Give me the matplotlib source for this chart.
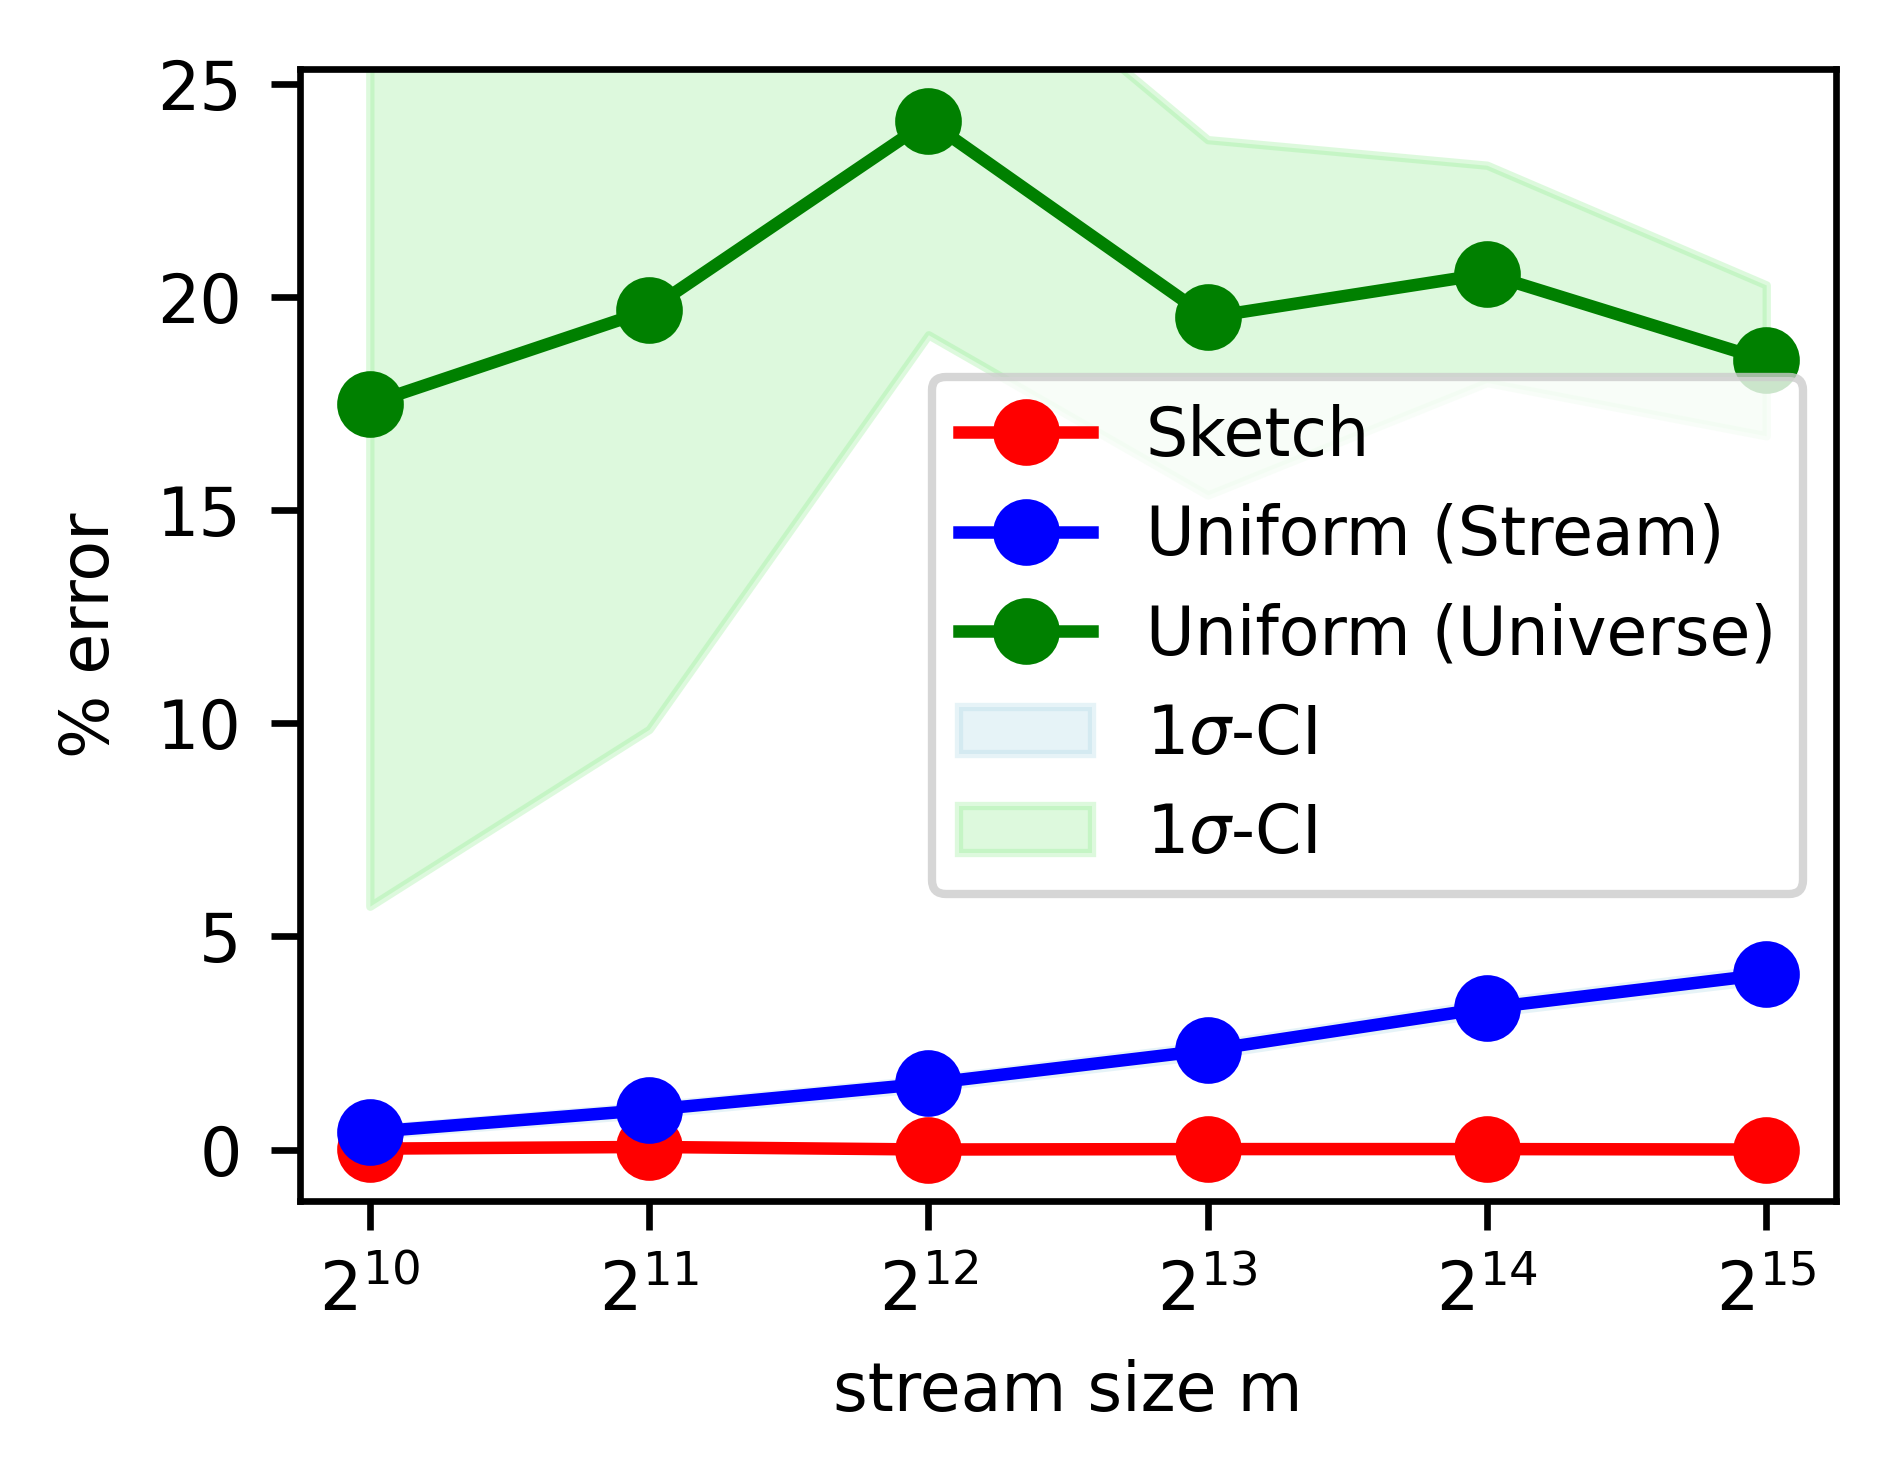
import numpy as np
import matplotlib
matplotlib.use("Agg")
import matplotlib.pyplot as plt

# ---- data ----
stream_size = [2**10, 2**11, 2**12, 2**13, 2**14, 2**15]
sketch = [0.02, 0.06, 0.00, 0.01, 0.01, 0.00]
uniform_stream = [0.41, 0.93, 1.55, 2.33, 3.32, 4.11]
uniform_stream_std = [0.08, 0.10, 0.10, 0.12, 0.12, 0.13]
uniform_universe = [17.50, 19.70, 24.14, 19.53, 20.55, 18.52]
uniform_universe_std = [11.79, 9.84, 5.02, 4.17, 2.55, 1.77]

labels = ["Sketch", "Uniform (Stream)", "Uniform (Universe)", r"1$\sigma$-CI", r"1$\sigma$-CI"]

plt.rcParams["font.family"] = ["DejaVu Sans"]
plt.rcParams["font.size"] = 8

fig = plt.figure(figsize=(1894 / 600, 1481 / 600), dpi=600)
ax = fig.add_axes([0.1584, 0.1891, 0.9694 - 0.1584, 0.9531 - 0.1891])

x = np.array(stream_size)
us = np.array(uniform_stream)
uss = np.array(uniform_stream_std)
uu = np.array(uniform_universe)
uus = np.array(uniform_universe_std)

l1, = ax.plot(x, sketch, "-o", color="red", lw=1.5, ms=7, label=labels[0])
l2, = ax.plot(x, us, "-o", color="blue", lw=1.5, ms=7, label=labels[1])
l3, = ax.plot(x, uu, "-o", color="green", lw=1.5, ms=7, label=labels[2])
f1 = ax.fill_between(x, us - uss, us + uss, color="lightblue", alpha=0.3, label=labels[3], zorder=0)
f2 = ax.fill_between(x, uu - uus, uu + uus, color="lightgreen", alpha=0.3, label=labels[4], zorder=0)

ax.set_xscale("log", base=2)
ax.set_xticks(stream_size)

allv = np.concatenate([sketch, us, uu])
rng = allv.max() - allv.min()
ax.set_ylim(allv.min() - 0.05 * rng, allv.max() + 0.05 * rng)

ax.set_xlabel("stream size m")
ax.set_ylabel("% error")
ax.legend(handles=[l1, l2, l3, f1, f2], loc="center right")

fig.savefig("out.png", dpi=600)
